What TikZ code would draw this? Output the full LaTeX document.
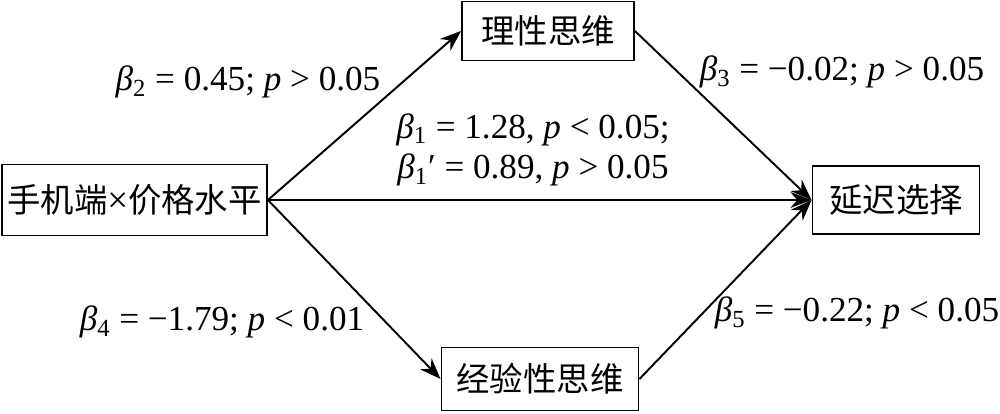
\documentclass[tikz,border=0pt]{standalone}
\usepackage{fontspec}
\setmainfont{Liberation Serif}
\newfontfamily\cjk{Noto Sans CJK SC}
\usetikzlibrary{arrows.meta}
\newcommand{\bt}[1]{{\itshape β}\textsubscript{#1}}
\newcommand{\pv}{{\itshape p}}
\begin{document}
\begin{tikzpicture}[x=0.02cm, y=-0.02cm,
	    box/.style={draw, line width=1.1pt, inner sep=0pt, font=\cjk\fontsize{19}{23}\selectfont},
	    lab/.style={align=center, font=\fontsize{20}{23}\selectfont},
	    link/.style={-{Stealth[length=12pt, width=9pt]}, line width=1.1pt}]
	    \useasboundingbox (0,0) rectangle (1000,413);
	    \node[box, minimum width=5.3cm, minimum height=1.42cm] (mobile) at (134.5, 200) {手机端{\rmfamily\fontsize{21}{23}\selectfont ×}价格水平};
	    \node[box, minimum width=3.44cm, minimum height=1.18cm] (rational) at (548, 31) {理性思维};
	    \node[box, minimum width=3.34cm, minimum height=1.36cm] (delay) at (896, 200) {延迟选择};
	    \node[box, minimum width=3.94cm, minimum height=1.26cm] (empirical) at (540, 379) {经验性思维};
	    \node[lab] (b2) at (248, 82) {\bt{2} = 0.45; \pv{} > 0.05};
	    \node[lab] (b1) at (533, 150) {\bt{1} = 1.28, \pv{} < 0.05;\\\bt{1}′ = 0.89, \pv{} > 0.05};
	    \node[lab] (b3) at (842, 72) {\bt{3} = −0.02; \pv{} > 0.05};
	    \node[lab] (b4) at (222, 322) {\bt{4} = −1.79; \pv{} < 0.01};
	    \node[lab] (b5) at (857, 313) {\bt{5} = −0.22; \pv{} < 0.05};
	    \draw[link] (mobile.east) -- (rational.west);
	    \draw[link] (mobile.east) -- (empirical.west);
	    \draw[link] (mobile.east) -- (delay.west);
	    \draw[link] (rational.east) -- (delay.west);
	    \draw[link] (empirical.east) -- (delay.west);
	\end{tikzpicture}
\end{document}
